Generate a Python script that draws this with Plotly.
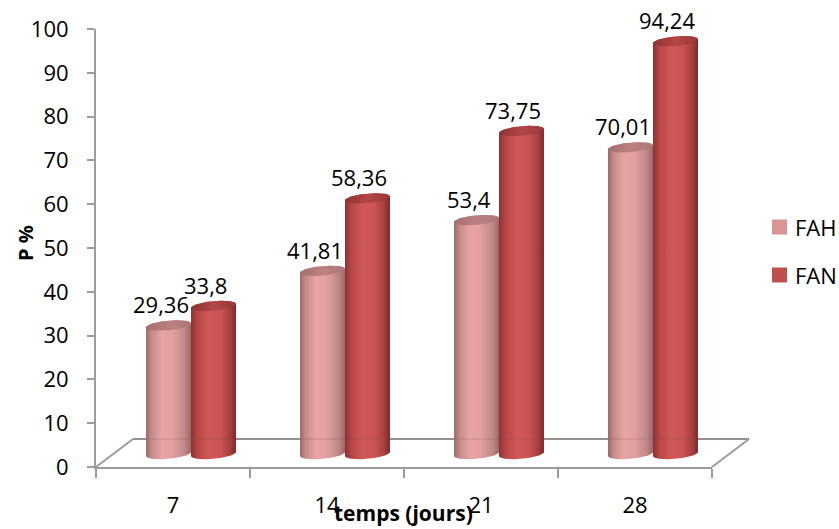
import numpy as np
import plotly.graph_objects as go

# ---- data -------------------------------------------------------------
categories = ["7", "14", "21", "28"]          # temps (jours)
series_names = ["FAH", "FAN"]
fah_values = [29.36, 41.81, 53.4, 70.01]
fan_values = [33.8, 58.36, 73.75, 94.24]
y_ticks = [0, 10, 20, 30, 40, 50, 60, 70, 80, 90, 100]

# ---- page geometry (pixels) -------------------------------------------
W, H = 839, 529
X0, X1 = 96, 712        # front edge of the floor
Y0, Y100 = 467, 29      # value 0 and value 100 on the front axis
DX, DY = 37, 28         # depth of the floor
BX, BY = 18, 13         # bars stand half-way into the depth
K = (Y0 - Y100) / 100.0 # pixels per unit
Y_LOW = -6              # room below zero for the cylinder bases


def fx(p):
    return p / W


def fy(p):
    return 1 - p / H


AXIS_GREY = "#9c9c9c"
FONT = "Open Sans"

body_scales = {
    "FAH": [[0, "#9c6767"], [0.12, "#c48a8a"], [0.35, "#e8a4a4"],
            [0.6, "#e19f9f"], [0.86, "#c08787"], [1, "#9a6868"]],
    "FAN": [[0, "#8c3131"], [0.14, "#b84646"], [0.4, "#d15858"],
            [0.66, "#cb5353"], [0.88, "#a63e3e"], [1, "#7a2727"]],
}
cap_scales = {
    "FAH": [[0, "#a46e6e"], [0.5, "#bb8181"], [1, "#ad7777"]],
    "FAN": [[0, "#8e3333"], [0.5, "#b34646"], [1, "#9a3838"]],
}
legend_colors = {"FAH": "#d99594", "FAN": "#c0504d"}

BAR_W = 0.292    # width of one cylinder, in category units
RY = 1.1         # half height of the elliptic ends, in value units
TILT = 0.45      # slight perspective tilt of the ends

fig = go.Figure()

# invisible trace so the front category axis is laid out
fig.add_trace(go.Scatter(x=categories, y=[0] * len(categories), mode="none",
                         showlegend=False, hoverinfo="skip",
                         xaxis="x", yaxis="y"))

t = np.linspace(0, np.pi, 48)
annotations = []
for s_idx, (name, values) in enumerate(zip(series_names, [fah_values, fan_values])):
    for i, v in enumerate(values):
        xl = i - BAR_W if s_idx == 0 else i
        xr = xl + BAR_W
        xc, rx = (xl + xr) / 2, (xr - xl) / 2

        # body: front half of the base ellipse, back half of the top ellipse
        xb = xc - rx * np.cos(t)
        yb = -RY * np.sin(t) + TILT * (xb - xc) / rx
        xt = xc + rx * np.cos(t)
        yt = v + RY * np.sin(t) + TILT * (xt - xc) / rx
        bx = np.concatenate([xb, xt, xb[:1]])
        by = np.concatenate([yb, yt, yb[:1]])
        fig.add_trace(go.Scatter(
            x=bx, y=by, mode="lines", fill="toself", line=dict(width=0),
            fillgradient=dict(type="horizontal", colorscale=body_scales[name]),
            name=name, showlegend=False, hoverinfo="skip",
            xaxis="x2", yaxis="y2"))

        # top cap
        a = np.linspace(0, 2 * np.pi, 96)
        cx = xc + rx * np.cos(a)
        cy = v + RY * np.sin(a) + TILT * (cx - xc) / rx
        fig.add_trace(go.Scatter(
            x=cx, y=cy, mode="lines", fill="toself", line=dict(width=0),
            fillgradient=dict(type="horizontal", colorscale=cap_scales[name]),
            name=name, showlegend=False, hoverinfo="skip",
            xaxis="x2", yaxis="y2"))

        annotations.append(dict(
            x=xc, y=v, xref="x2", yref="y2", xshift=-8, yshift=21,
            yanchor="middle", xanchor="center", showarrow=False,
            text=f"{v:g}".replace(".", ","),
            font=dict(family=FONT, size=22, color="#000000")))

# ---- floor outline --------------------------------------------------------
shapes = []
floor_lines = [
    (X0 + DX, Y0 - DY, X1 + DX, Y0 - DY),   # back edge
    (X0, Y0, X0 + DX, Y0 - DY),             # left side
    (X1, Y0, X1 + DX, Y0 - DY),             # right side
]
for (ax, ay, bx_, by_) in floor_lines:
    shapes.append(dict(type="line", xref="paper", yref="paper",
                       x0=fx(ax), y0=fy(ay), x1=fx(bx_), y1=fy(by_),
                       line=dict(color=AXIS_GREY, width=2), layer="below"))
# back edge faintly showing through the cylinders
shapes.append(dict(type="line", xref="paper", yref="paper",
                   x0=fx(X0 + DX), y0=fy(Y0 - DY), x1=fx(X1 + DX), y1=fy(Y0 - DY),
                   line=dict(color="#6e4a4a", width=1), opacity=0.25, layer="above"))

# ---- legend ---------------------------------------------------------------
LEG_X, LEG_Y, LEG_GAP, SQ = 772, 227, 48, 15
for k, name in enumerate(series_names):
    yc = LEG_Y + k * LEG_GAP
    shapes.append(dict(type="rect", xref="paper", yref="paper",
                       x0=fx(LEG_X), x1=fx(LEG_X + SQ),
                       y0=fy(yc + SQ / 2), y1=fy(yc - SQ / 2),
                       fillcolor=legend_colors[name], line=dict(width=0)))
    annotations.append(dict(x=fx(LEG_X + SQ + 6), y=fy(yc), xref="paper", yref="paper",
                            xanchor="left", yanchor="middle", showarrow=False,
                            text=name, font=dict(family=FONT, size=22, color="#000000")))

# ---- axis titles ----------------------------------------------------------
annotations.append(dict(x=fx(26), y=fy(243), xref="paper", yref="paper",
                        text="<b>P %</b>", textangle=-90, showarrow=False,
                        xanchor="center", yanchor="middle",
                        font=dict(family=FONT, size=20, color="#000000")))
annotations.append(dict(x=fx(403), y=fy(513), xref="paper", yref="paper",
                        text="<b>temps (jours)</b>", showarrow=False,
                        xanchor="center", yanchor="middle",
                        font=dict(family=FONT, size=21, color="#000000")))

fig.update_layout(
    width=W, height=H,
    margin=dict(l=0, r=0, t=0, b=0, autoexpand=False),
    paper_bgcolor="#ffffff", plot_bgcolor="rgba(0,0,0,0)",
    showlegend=False,
    font=dict(family=FONT, color="#000000"),
    xaxis=dict(type="category", categoryarray=categories, range=[-0.5, 3.5],
               domain=[fx(X0), fx(X1)], anchor="y", automargin=False,
               showline=True, linecolor=AXIS_GREY, linewidth=2,
               ticks="outside", tickson="boundaries", ticklen=9,
               tickcolor=AXIS_GREY, tickwidth=2, ticklabelstandoff=18,
               showgrid=False, zeroline=False,
               tickfont=dict(family=FONT, size=22, color="#000000")),
    yaxis=dict(range=[0, 100], domain=[fy(Y0), fy(Y100)], anchor="x",
               automargin=False,
               tickvals=y_ticks, showline=True, linecolor=AXIS_GREY, linewidth=2,
               ticks="outside", ticklen=7, tickcolor=AXIS_GREY, tickwidth=2,
               ticklabelstandoff=14, showgrid=False, zeroline=False,
               tickfont=dict(family=FONT, size=22, color="#000000")),
    xaxis2=dict(range=[-0.5, 3.5], domain=[fx(X0 + BX), fx(X1 + BX)],
                anchor="y2", visible=False, showgrid=False, zeroline=False,
                automargin=False),
    yaxis2=dict(range=[Y_LOW, 100],
                domain=[fy(Y0 - BY - Y_LOW * K), fy(Y100 - BY)],
                anchor="x2", visible=False, showgrid=False, zeroline=False,
                automargin=False),
    shapes=shapes,
    annotations=annotations,
)

fig.write_html("out.html")
